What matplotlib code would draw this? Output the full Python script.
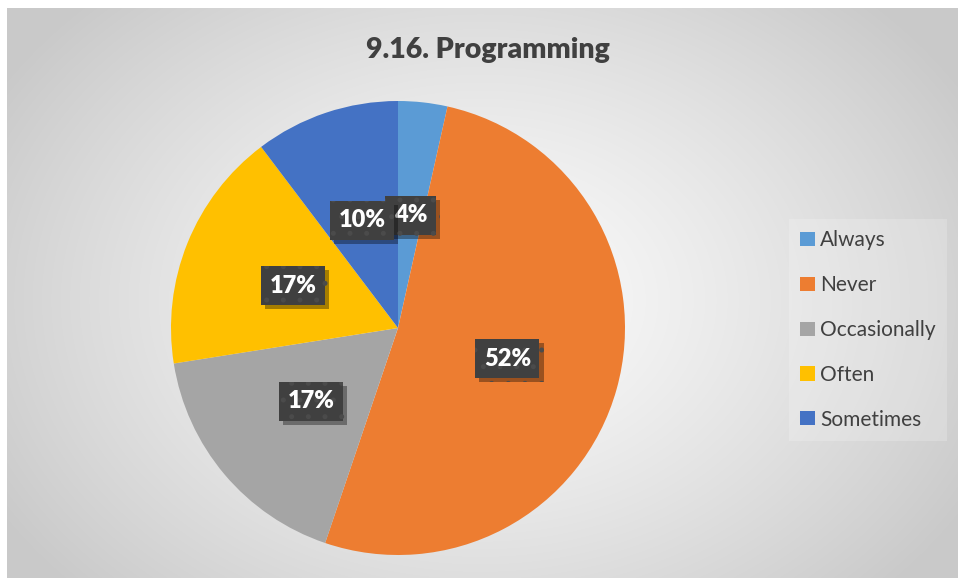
import numpy as np
import matplotlib
matplotlib.use("Agg")
import matplotlib.pyplot as plt
from matplotlib.patches import Patch
import matplotlib.patheffects as pe

# ---- data ----
categories = ["Always", "Never", "Occasionally", "Often", "Sometimes"]
values = [3.5, 51.7, 17.3, 17.2, 10.3]          # slice shares
pct_labels = ["4%", "52%", "17%", "17%", "10%"]  # data labels as shown
colors = ["#5B9BD5", "#ED7D31", "#A5A5A5", "#FFC000", "#4472C4"]
title = "9.16. Programming"

W, H = 958, 581
fig = plt.figure(figsize=(W / 100, H / 100), dpi=100)
fig.patch.set_facecolor("white")

# ---- background radial gradient in chart area ----
x0, x1, y0, y1 = 7, 958, 8, 578  # pixel chart area (top-left origin)
bg = fig.add_axes([x0 / W, 1 - y1 / H, (x1 - x0) / W, (y1 - y0) / H])
bg.set_axis_off()
yy, xx = np.mgrid[y0:y1, x0:x1]
cx, cy = 480, 300
d = np.sqrt(((xx - cx) / 560.0) ** 2 + ((yy - cy) / 420.0) ** 2)
d = np.clip(d, 0, 1)
g = 0.985 - 0.195 * d ** 1.3
img = np.dstack([g, g, g])
bg.imshow(img, aspect="auto", extent=[0, 1, 0, 1], origin="upper")
bg.set_xlim(0, 1)
bg.set_ylim(0, 1)

# ---- pie ----
pcx, pcy, r = 398, 328, 227
ax = fig.add_axes([(pcx - r) / W, 1 - (pcy + r) / H, 2 * r / W, 2 * r / H])
ax.set_axis_off()
label_iter = iter(pct_labels)
wedges, texts, autotexts = ax.pie(
    values, colors=colors, startangle=90, counterclock=False,
    autopct=lambda p: next(label_iter), pctdistance=0.5,
    wedgeprops=dict(linewidth=0), radius=1.0)
ax.set_xlim(-1, 1)
ax.set_ylim(-1, 1)
ax.set_aspect("equal")

plt.rcParams["hatch.linewidth"] = 1.2
for t in autotexts:
    t.set_fontsize(17)
    t.set_fontweight("heavy")
    t.set_family("Lato")
    t.set_color("white")
    t.set_bbox(dict(boxstyle="square,pad=0.36", fc="#404040",
                    ec="#4b4b4b", lw=0, hatch="."))
    t.get_bbox_patch().set_path_effects(
        [pe.SimplePatchShadow(offset=(3, -3), shadow_rgbFace="black", alpha=0.35),
         pe.Normal()])

# ---- title ----
fig.text(488 / W, 1 - 50 / H, title, ha="center", va="center",
         fontsize=20.5, fontweight="heavy", family="Lato", color="#404040")

# ---- legend ----
handles = [Patch(facecolor=c, edgecolor="none") for c in colors]
leg = fig.legend(handles, categories, loc="upper left",
                 bbox_to_anchor=(789 / W, 1 - 219 / H),
                 bbox_transform=fig.transFigure, borderaxespad=0,
                 prop=dict(family="Lato", size=15),
                 handlelength=0.68, handleheight=0.68, handletextpad=0.25,
                 labelspacing=1.19, borderpad=0.55, frameon=True,
                 fancybox=False)
leg.get_frame().set_facecolor("white")
leg.get_frame().set_alpha(0.2)
leg.get_frame().set_edgecolor("none")
for t in leg.get_texts():
    t.set_color("#404040")

fig.savefig("out.png", dpi=100, facecolor="white")
